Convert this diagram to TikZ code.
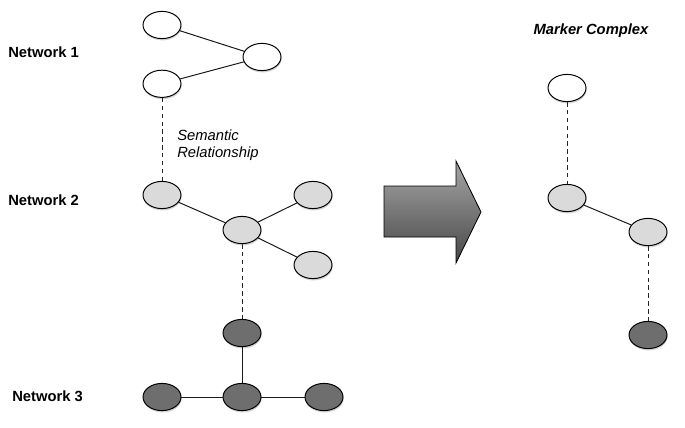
\documentclass[tikz,border=0pt]{standalone}
\usepackage{fontspec}
\setmainfont{Liberation Sans}
\usetikzlibrary{shapes.geometric,shadows}
\definecolor{nodelight}{RGB}{218,218,218}
\definecolor{nodedark}{RGB}{110,110,110}

\begin{document}
\begin{tikzpicture}[x=1cm,y=1cm]
\tikzset{nd/.style={ellipse,draw=black,line width=.7pt,minimum width=.95cm,minimum height=.68cm,inner sep=0pt,
    drop shadow={shadow xshift=.4pt,shadow yshift=-1.3pt,opacity=.35}},
  edge/.style={draw=black!90,line width=.7pt},
  rel/.style={draw=black!85,line width=.7pt,dash pattern=on 3.2pt off 2.4pt},
  lab/.style={font=\fontsize{10.5}{12.5}\selectfont\bfseries,anchor=west,inner sep=0pt}}
\useasboundingbox (0,0) rectangle (17.125,10.675);
% networks on the left
\node[nd,fill=white] (n1a) at (4.05,10.05) {};
\node[nd,fill=white] (n1b) at (6.55,9.25) {};
\node[nd,fill=white] (n1c) at (4.05,8.58) {};
\node[nd,fill=nodelight] (n2a) at (4.05,5.8) {};
\node[nd,fill=nodelight] (n2b) at (7.825,5.8) {};
\node[nd,fill=nodelight] (n2c) at (6.05,4.925) {};
\node[nd,fill=nodelight] (n2d) at (7.825,4.05) {};
\node[nd,fill=nodedark] (n3a) at (6.05,2.35) {};
\node[nd,fill=nodedark] (n3b) at (4.05,.75) {};
\node[nd,fill=nodedark] (n3c) at (6.05,.75) {};
\node[nd,fill=nodedark] (n3d) at (8.1,.75) {};
\draw[edge] (n1a) -- (n1b);
\draw[edge] (n1c) -- (n1b);
\draw[edge] (n2a) -- (n2c);
\draw[edge] (n2c) -- (n2b);
\draw[edge] (n2c) -- (n2d);
\draw[edge] (n3a) -- (n3c);
\draw[edge] (n3b) -- (n3c);
\draw[edge] (n3c) -- (n3d);
\draw[rel] (n1c) -- (n2a);
\draw[rel] (n2c) -- (n3a);
\node[lab] (l1) at (.2,9.375) {Network 1};
\node[lab] (l2) at (.2,5.675) {Network 2};
\node[lab] (l3) at (.3,.775) {Network 3};
\node[font=\fontsize{10.5}{12.5}\selectfont\itshape,anchor=west,align=left,inner sep=0pt] (sem) at (4.425,7.05) {Semantic\\Relationship};
% big arrow
\shade[top color=black!35,bottom color=black!72,draw=black,line width=.6pt]
  (9.6,6.025) -- (11.4,6.025) -- (11.4,6.65) -- (12.025,5.375) -- (11.4,4.1) -- (11.4,4.75) -- (9.6,4.75) -- cycle;
% marker complex
\node[font=\fontsize{10.5}{12.5}\selectfont\bfseries\itshape] (mc) at (14.775,9.9) {Marker Complex};
\node[nd,fill=white] (m1) at (14.175,8.475) {};
\node[nd,fill=nodelight] (m2) at (14.175,5.725) {};
\node[nd,fill=nodelight] (m3) at (16.2,4.875) {};
\node[nd,fill=nodedark] (m4) at (16.2,2.3) {};
\draw[rel] (m1) -- (m2);
\draw[edge] (m2) -- (m3);
\draw[rel] (m3) -- (m4);
\end{tikzpicture}
\end{document}
